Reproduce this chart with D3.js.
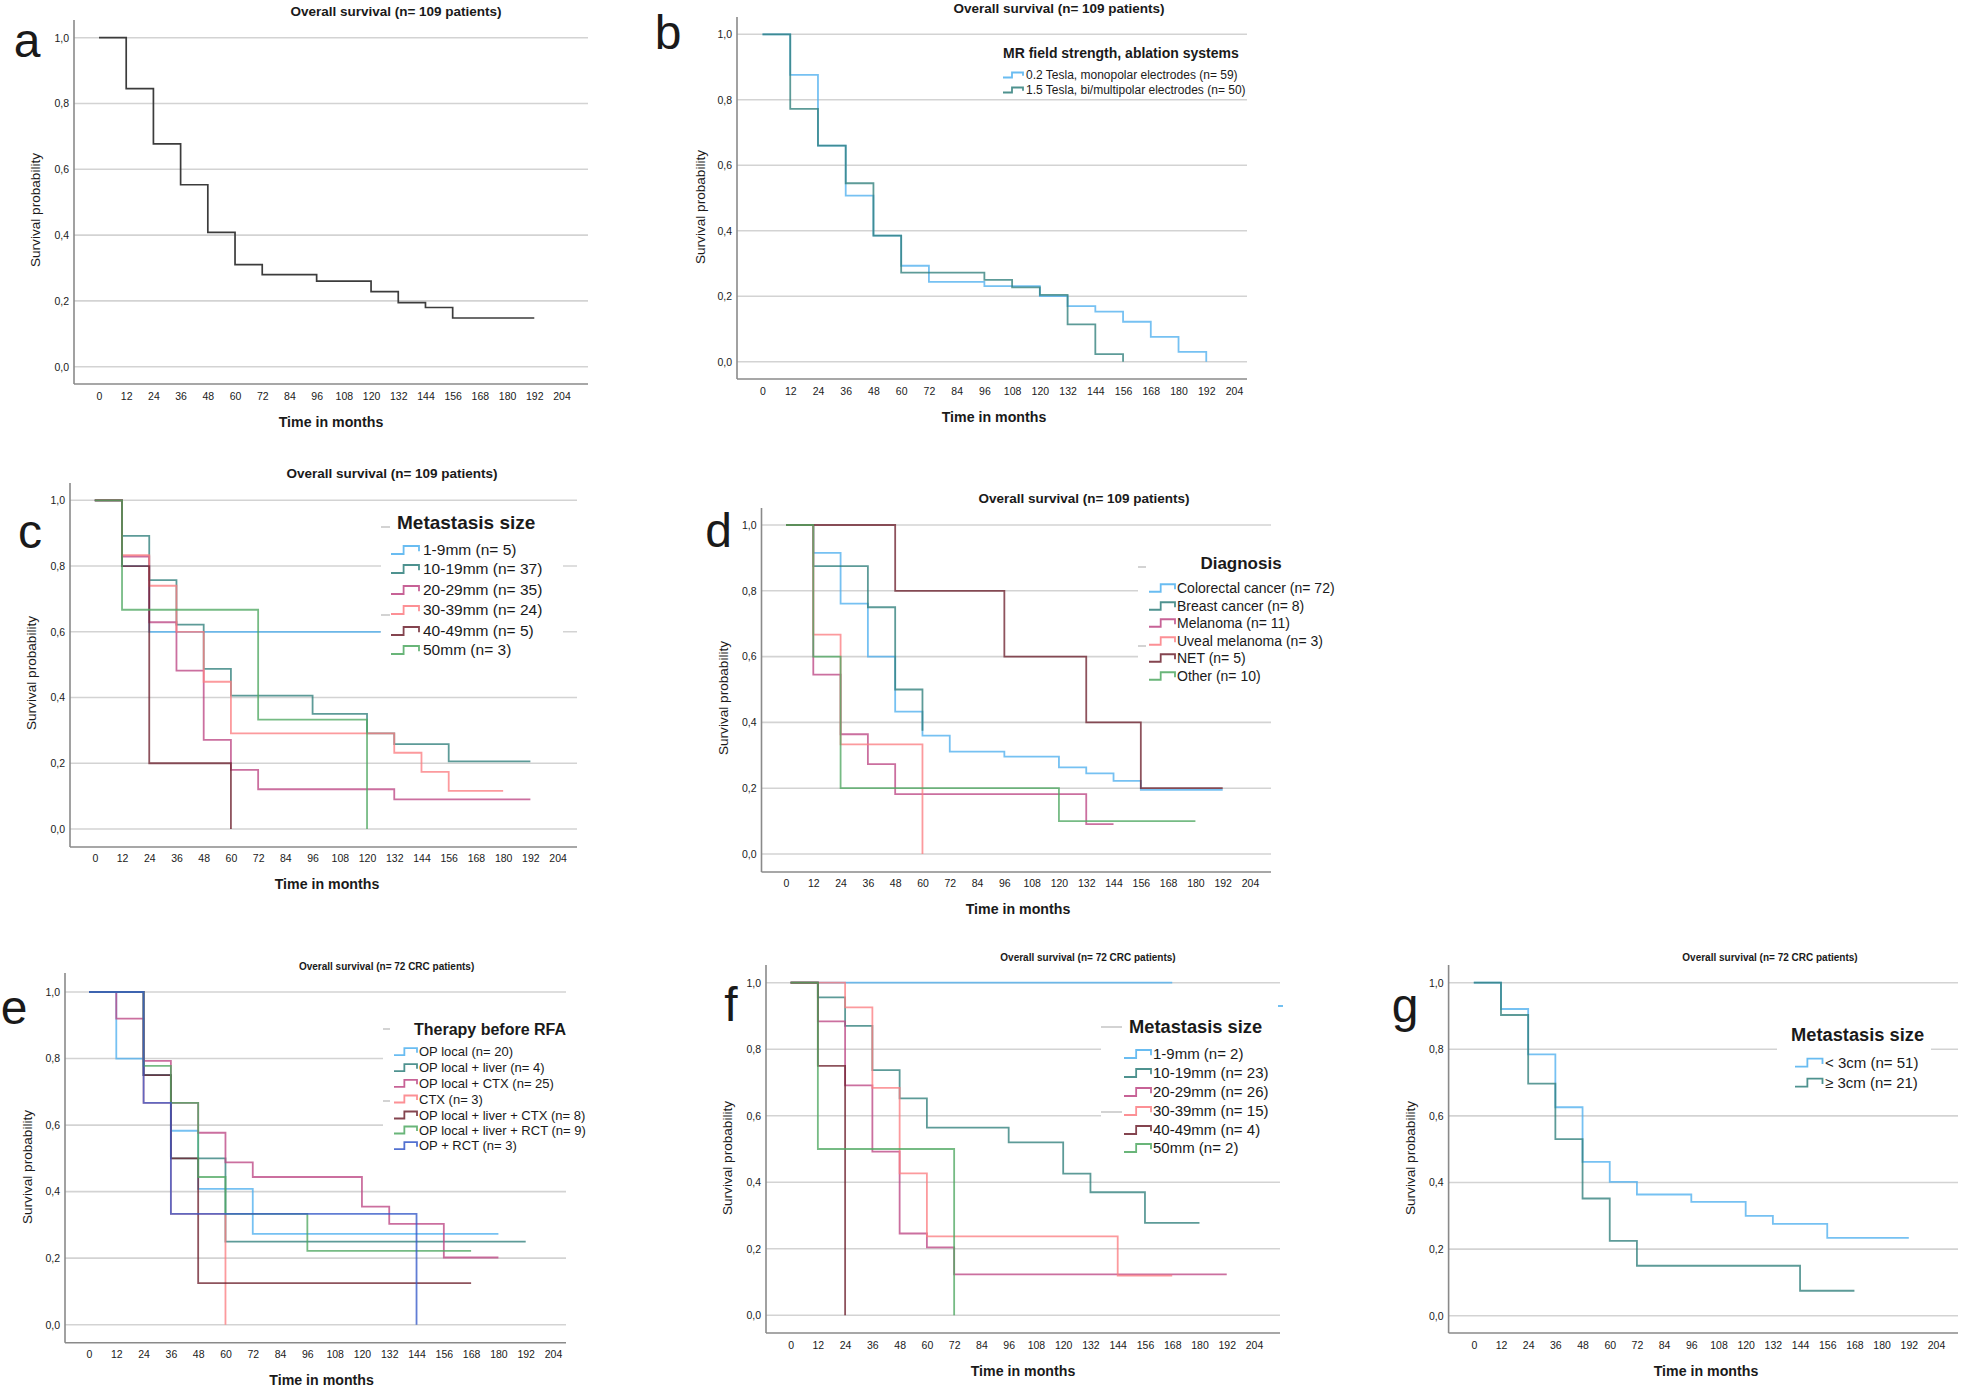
<!DOCTYPE html>
<html><head><meta charset="utf-8">
<script src="https://cdn.jsdelivr.net/npm/d3@7"></script>
<style>
body{margin:0;background:#fff}
svg{display:block}
text{font-family:"Liberation Sans",Arial,Helvetica,sans-serif;fill:#1a1a1a}
</style></head>
<body><svg id="chart" width="1962" height="1388"></svg>
<script>
// ---------------- DATA ----------------
const xTicks = [0,12,24,36,48,60,72,84,96,108,120,132,144,156,168,180,192,204];
const yTicks = [0,0.2,0.4,0.6,0.8,1.0];
const yTickLabels = ["0,0","0,2","0,4","0,6","0,8","1,0"];
const titleAll = "Overall survival (n= 109 patients)";
const titleCRC = "Overall survival (n= 72 CRC patients)";
const xTitle = "Time in months";
const yTitle = "Survival probability";

// a
const aTimes = [0,12,24,36,48,60,72,96,120,132,144,156,192];
const aSurv  = [1,0.845,0.677,0.553,0.408,0.31,0.28,0.26,0.228,0.195,0.18,0.148,0.148];

// b
const bLegendTitle = "MR field strength, ablation systems";
const bCategories = ["0.2 Tesla, monopolar electrodes (n= 59)","1.5 Tesla, bi/multipolar electrodes (n= 50)"];
const bTimes02 = [0,12,24,36,48,60,72,96,120,132,144,156,168,180,192];
const bSurv02  = [1,0.876,0.66,0.507,0.385,0.293,0.244,0.231,0.2,0.17,0.153,0.122,0.076,0.03,0];
const bTimes15 = [0,12,24,36,48,60,96,108,120,132,144,156];
const bSurv15  = [1,0.772,0.66,0.545,0.385,0.272,0.25,0.227,0.204,0.114,0.023,0];

// c
const cLegendTitle = "Metastasis size";
const cCategories = ["1-9mm (n= 5)","10-19mm (n= 37)","20-29mm (n= 35)","30-39mm (n= 24)","40-49mm (n= 5)","50mm (n= 3)"];
const cTimes1 = [0,12,24,126];              const cSurv1 = [1,0.8,0.6,0.6];
const cTimes2 = [0,12,24,36,48,60,96,120,132,156,192]; const cSurv2 = [1,0.892,0.757,0.622,0.487,0.406,0.35,0.291,0.258,0.206,0.206];
const cTimes3 = [0,12,24,36,48,60,72,132,192]; const cSurv3 = [1,0.829,0.629,0.482,0.271,0.18,0.121,0.09,0.09];
const cTimes4 = [0,12,24,36,48,60,132,144,156,180]; const cSurv4 = [1,0.833,0.74,0.6,0.448,0.291,0.232,0.174,0.116,0.116];
const cTimes5 = [0,12,24,60];               const cSurv5 = [1,0.8,0.2,0];
const cTimes6 = [0,12,72,120];              const cSurv6 = [1,0.667,0.333,0];

// d
const dLegendTitle = "Diagnosis";
const dCategories = ["Colorectal cancer (n= 72)","Breast cancer (n= 8)","Melanoma (n= 11)","Uveal melanoma (n= 3)","NET (n= 5)","Other (n= 10)"];
const dTimes1 = [0,12,24,36,48,60,72,96,120,132,144,156,192]; const dSurv1 = [1,0.915,0.761,0.6,0.433,0.36,0.311,0.296,0.263,0.245,0.222,0.195,0.195];
const dTimes2 = [0,12,36,48,60];            const dSurv2 = [1,0.875,0.75,0.5,0.375];
const dTimes3 = [0,12,24,36,48,132,144];    const dSurv3 = [1,0.545,0.364,0.273,0.182,0.091,0.091];
const dTimes4 = [0,12,24,60];               const dSurv4 = [1,0.667,0.333,0];
const dTimes5 = [0,48,96,132,156,192];      const dSurv5 = [1,0.8,0.6,0.4,0.2,0.2];
const dTimes6 = [0,12,24,120,180];          const dSurv6 = [1,0.6,0.2,0.1,0.1];

// e
const eLegendTitle = "Therapy before RFA";
const eCategories = ["OP local (n= 20)","OP local + liver (n= 4)","OP local + CTX (n= 25)","CTX (n= 3)","OP local + liver + CTX (n= 8)","OP local + liver + RCT (n= 9)","OP + RCT (n= 3)"];
const eTimes1 = [0,12,24,36,48,72,180];     const eSurv1 = [1,0.8,0.75,0.583,0.408,0.273,0.273];
const eTimes2 = [0,24,36,60,192];           const eSurv2 = [1,0.75,0.5,0.25,0.25];
const eTimes3 = [0,12,24,36,48,60,72,120,132,156,180]; const eSurv3 = [1,0.92,0.793,0.667,0.577,0.488,0.444,0.355,0.303,0.202,0.202];
const eTimes4 = [0,24,36,60];               const eSurv4 = [1,0.667,0.333,0];
const eTimes5 = [0,24,36,48,168];           const eSurv5 = [1,0.75,0.5,0.125,0.125];
const eTimes6 = [0,24,36,48,60,96,168];     const eSurv6 = [1,0.778,0.667,0.444,0.333,0.222,0.222];
const eTimes7 = [0,24,36,144];              const eSurv7 = [1,0.667,0.333,0];

// f
const fLegendTitle = "Metastasis size";
const fCategories = ["1-9mm (n= 2)","10-19mm (n= 23)","20-29mm (n= 26)","30-39mm (n= 15)","40-49mm (n= 4)","50mm (n= 2)"];
const fTimes1 = [0,168];                    const fSurv1 = [1,1];
const fTimes2 = [0,12,24,36,48,60,96,120,132,156,180]; const fSurv2 = [1,0.956,0.87,0.737,0.652,0.564,0.52,0.426,0.37,0.278,0.278];
const fTimes3 = [0,12,24,36,48,60,72,192];  const fSurv3 = [1,0.884,0.691,0.492,0.246,0.204,0.123,0.123];
const fTimes4 = [0,24,36,48,60,144,168];    const fSurv4 = [1,0.926,0.684,0.427,0.237,0.119,0.119];
const fTimes5 = [0,12,24];                  const fSurv5 = [1,0.75,0];
const fTimes6 = [0,12,72];                  const fSurv6 = [1,0.5,0];

// g
const gLegendTitle = "Metastasis size";
const gCategories = ["< 3cm (n= 51)","\u2265 3cm (n= 21)"];
const gTimes1 = [0,12,24,36,48,60,72,96,120,132,156,192]; const gSurv1 = [1,0.921,0.785,0.626,0.462,0.402,0.364,0.342,0.30,0.276,0.234,0.234];
const gTimes2 = [0,12,24,36,48,60,72,144,168]; const gSurv2 = [1,0.903,0.697,0.53,0.352,0.225,0.15,0.075,0.075];

// ---------------- STYLE / LAYOUT ----------------
const COL = {blue:"#4fb0ee", teal:"#2f7f7b", magenta:"#bd4684", salmon:"#fb7d82", darkred:"#6e2330", green:"#4fa862", navy:"#3558c8", black:"#3c3c3c"};
const zip = (t,s) => t.map((v,i)=>[v,s[i]]);

const panels = [
 {letter:"a", title:titleAll, tSize:13.5, x0:99, x204:561.5, y1:37.7, y0:366.7, L:74, R:588, B:384, T:20, tickY:396,
  tx:396, ty:11, xlx:331, xly:422, ylx:35, yly:210, lx:27, ly:57,
  series:[{d:zip(aTimes,aSurv), c:COL.black}], legend:null},
 {letter:"b", title:titleAll, tSize:13.5, x0:762.5, x204:1234, y1:34.3, y0:361.7, L:737, R:1247, B:379, T:17, tickY:391,
  tx:1059, ty:8.5, xlx:994, xly:417, ylx:700, yly:207, lx:668, ly:49,
  series:[{d:zip(bTimes02,bSurv02), c:COL.blue},{d:zip(bTimes15,bSurv15), c:COL.teal}],
  legend:{title:bLegendTitle, titleSize:14, titleX:1003, titleY:53, anchor:"start", cats:bCategories, cols:[COL.blue,COL.teal],
   symX:1003, symW:20, symH:5, textX:1026, ys:[75,90], size:12, box:null, dashes:[]}},
 {letter:"c", title:titleAll, tSize:13.5, x0:94.8, x204:557.6, y1:500.3, y0:829, L:70, R:577, B:847, T:483, tickY:858,
  tx:392, ty:473, xlx:327, xly:884, ylx:31.6, yly:673, lx:30, ly:548,
  series:[{d:zip(cTimes1,cSurv1),c:COL.blue},{d:zip(cTimes2,cSurv2),c:COL.teal},{d:zip(cTimes3,cSurv3),c:COL.magenta},
          {d:zip(cTimes4,cSurv4),c:COL.salmon},{d:zip(cTimes5,cSurv5),c:COL.darkred},{d:zip(cTimes6,cSurv6),c:COL.green}],
  legend:{title:cLegendTitle, titleSize:19, titleX:397, titleY:522, anchor:"start", cats:cCategories,
   cols:[COL.blue,COL.teal,COL.magenta,COL.salmon,COL.darkred,COL.green],
   symX:391, symW:28, symH:8, textX:423, ys:[550,569,590,610,631,650], size:15.5, box:[381,508,563,662],
   dashes:[[381,390,527],[381,390,615]]}},
 {letter:"d", title:titleAll, tSize:13.5, x0:786, x204:1250, y1:525, y0:854, L:761.5, R:1271, B:872, T:508, tickY:883,
  tx:1084, ty:498, xlx:1018, xly:909, ylx:723, yly:698, lx:718.5, ly:547,
  series:[{d:zip(dTimes1,dSurv1),c:COL.blue},{d:zip(dTimes2,dSurv2),c:COL.teal},{d:zip(dTimes3,dSurv3),c:COL.magenta},
          {d:zip(dTimes4,dSurv4),c:COL.salmon},{d:zip(dTimes5,dSurv5),c:COL.darkred},{d:zip(dTimes6,dSurv6),c:COL.green}],
  legend:{title:dLegendTitle, titleSize:17, titleX:1241, titleY:563, anchor:"middle", cats:dCategories,
   cols:[COL.blue,COL.teal,COL.magenta,COL.salmon,COL.darkred,COL.green],
   symX:1149, symW:26, symH:7.5, textX:1177, ys:[588,606,623,641,658,676], size:14, box:[1138,548,1345,688],
   dashes:[[1138,1146,567],[1138,1146,646]]}},
 {letter:"e", title:titleCRC, tSize:10, x0:89, x204:553, y1:992, y0:1324.7, L:65, R:566, B:1342.7, T:973, tickY:1354,
  tx:386.6, ty:966, xlx:321.6, xly:1380, ylx:26.8, yly:1167, lx:14, ly:1024,
  series:[{d:zip(eTimes1,eSurv1),c:COL.blue},{d:zip(eTimes2,eSurv2),c:COL.teal},{d:zip(eTimes3,eSurv3),c:COL.magenta},
          {d:zip(eTimes4,eSurv4),c:COL.salmon},{d:zip(eTimes5,eSurv5),c:COL.darkred},{d:zip(eTimes6,eSurv6),c:COL.green},
          {d:zip(eTimes7,eSurv7),c:COL.navy}],
  legend:{title:eLegendTitle, titleSize:16, titleX:414, titleY:1029, anchor:"start", cats:eCategories,
   cols:[COL.blue,COL.teal,COL.magenta,COL.salmon,COL.darkred,COL.green,COL.navy],
   symX:394, symW:23, symH:7, textX:419, ys:[1051.7,1067.7,1083.3,1099,1115,1130,1145.7], size:13, box:[383,1012,580,1160],
   dashes:[[383,390,1029],[383,390,1101]]}},
 {letter:"f", title:titleCRC, tSize:10, x0:790.6, x204:1254, y1:982.7, y0:1315.3, L:766, R:1280, B:1333, T:965, tickY:1345,
  tx:1088, ty:957, xlx:1023, xly:1371, ylx:727, yly:1158, lx:731, ly:1021,
  series:[{d:zip(fTimes1,fSurv1),c:COL.blue},{d:zip(fTimes2,fSurv2),c:COL.teal},{d:zip(fTimes3,fSurv3),c:COL.magenta},
          {d:zip(fTimes4,fSurv4),c:COL.salmon},{d:zip(fTimes5,fSurv5),c:COL.darkred},{d:zip(fTimes6,fSurv6),c:COL.green}],
  legend:{title:fLegendTitle, titleSize:18.3, titleX:1129, titleY:1027, anchor:"start", cats:fCategories,
   cols:[COL.blue,COL.teal,COL.magenta,COL.salmon,COL.darkred,COL.green],
   symX:1124, symW:27, symH:8, textX:1153, ys:[1054,1073,1092,1111,1130,1148], size:15, box:[1101,1012,1295,1160],
   dashes:[[1101,1122,1027],[1101,1122,1112]], extra:[[1278,1283,1006,COL.blue]]}},
 {letter:"g", title:titleCRC, tSize:10, x0:1473.8, x204:1936, y1:982.7, y0:1315.7, L:1448.6, R:1958, B:1333, T:965, tickY:1345,
  tx:1770, ty:957, xlx:1706, xly:1371, ylx:1410, yly:1158, lx:1405, ly:1022,
  series:[{d:zip(gTimes1,gSurv1),c:COL.blue},{d:zip(gTimes2,gSurv2),c:COL.teal}],
  legend:{title:gLegendTitle, titleSize:18.3, titleX:1791, titleY:1035, anchor:"start", cats:gCategories,
   cols:[COL.blue,COL.teal], symX:1795, symW:27.5, symH:8, textX:1825, ys:[1062.7,1082.7], size:15, box:[1777,1015,1931,1095],
   dashes:[]}}
];

// ---------------- DRAW ----------------
const svg = d3.select("#chart");
svg.append("rect").attr("width",1962).attr("height",1388).attr("fill","#fff");

panels.forEach(p => {
  const x = d3.scaleLinear().domain([0,204]).range([p.x0,p.x204]);
  const y = d3.scaleLinear().domain([0,1]).range([p.y0,p.y1]);
  const g = svg.append("g");

  // gridlines
  g.selectAll("line.grid").data(yTicks).join("line").attr("class","grid")
    .attr("x1",p.L).attr("x2",p.R).attr("y1",d=>y(d)).attr("y2",d=>y(d))
    .attr("stroke","#d3d3d3").attr("stroke-width",1.6);

  // legend box (masks gridlines)
  if (p.legend && p.legend.box) {
    const b = p.legend.box;
    g.append("rect").attr("x",b[0]).attr("y",b[1]).attr("width",b[2]-b[0]).attr("height",b[3]-b[1]).attr("fill","#fff");
  }

  // axis lines
  g.append("line").attr("x1",p.L).attr("x2",p.L).attr("y1",p.T).attr("y2",p.B).attr("stroke","#8a8a8a").attr("stroke-width",1.6);
  g.append("line").attr("x1",p.L).attr("x2",p.R).attr("y1",p.B).attr("y2",p.B).attr("stroke","#8a8a8a").attr("stroke-width",1.6);

  // x axis tick labels
  const xa = g.append("g").attr("transform",`translate(0,${p.tickY})`)
    .call(d3.axisBottom(x).tickValues(xTicks).tickSize(0).tickFormat(d=>String(d)));
  xa.select(".domain").remove();
  xa.selectAll("text").attr("y",0).attr("dy","0.35em").attr("font-size",10.5).attr("fill","#333")
    .style("font-family",'"Liberation Sans",Arial,sans-serif');

  // y axis tick labels
  const ya = g.append("g").attr("transform",`translate(${p.L-2},0)`)
    .call(d3.axisLeft(y).tickValues(yTicks).tickSize(0).tickFormat((d,i)=>yTickLabels[i]));
  ya.select(".domain").remove();
  ya.selectAll("text").attr("font-size",10.5).attr("fill","#333")
    .style("font-family",'"Liberation Sans",Arial,sans-serif');

  // curves
  const line = d3.line().x(d=>x(d[0])).y(d=>y(d[1])).curve(d3.curveStepAfter);
  g.selectAll("path.km").data(p.series).join("path").attr("class","km")
    .attr("d",s=>line(s.d)).attr("fill","none").attr("stroke",s=>s.c)
    .attr("stroke-width", p.letter==="a"?1.7:1.8).attr("stroke-opacity", p.letter==="a"?1:0.78);

  // titles
  g.append("text").attr("x",p.tx).attr("y",p.ty).attr("dy","0.35em").attr("text-anchor","middle")
    .attr("font-weight","bold").attr("font-size",p.tSize).text(p.title);
  g.append("text").attr("x",p.xlx).attr("y",p.xly).attr("dy","0.35em").attr("text-anchor","middle")
    .attr("font-weight","bold").attr("font-size",14.2).text(xTitle);
  g.append("text").attr("transform",`translate(${p.ylx},${p.yly}) rotate(-90)`).attr("dy","0.35em")
    .attr("text-anchor","middle").attr("font-size",13.6).attr("fill","#111").text(yTitle);

  // panel letter
  g.append("text").attr("x",p.lx).attr("y",p.ly).attr("text-anchor","middle")
    .style("font-family",'"Liberation Sans",Arial,sans-serif').attr("font-size",48).attr("fill","#000").text(p.letter);

  // legend
  const lg = p.legend;
  if (lg) {
    g.append("text").attr("x",lg.titleX).attr("y",lg.titleY).attr("dy","0.35em").attr("text-anchor",lg.anchor)
      .attr("font-weight","bold").attr("font-size",lg.titleSize).attr("fill","#111").text(lg.title);
    lg.dashes.forEach(dd => g.append("line").attr("x1",dd[0]).attr("x2",dd[1]).attr("y1",dd[2]).attr("y2",dd[2])
      .attr("stroke","#c8c8c8").attr("stroke-width",1.6));
    (lg.extra||[]).forEach(dd => g.append("line").attr("x1",dd[0]).attr("x2",dd[1]).attr("y1",dd[2]).attr("y2",dd[2])
      .attr("stroke",dd[3]).attr("stroke-width",1.6));
    const items = g.selectAll("g.li").data(lg.cats).join("g").attr("class","li");
    items.append("path").attr("d",(d,i)=>{
        const cy = lg.ys[i], sx = lg.symX, w = lg.symW, h = lg.symH;
        return `M${sx},${cy+h/2}H${sx+w*0.45}V${cy-h/2}H${sx+w}V${cy+h*0.15}`;
      }).attr("fill","none").attr("stroke",(d,i)=>lg.cols[i]).attr("stroke-width",1.8).attr("stroke-opacity",0.85);
    items.append("text").attr("x",lg.textX).attr("y",(d,i)=>lg.ys[i]).attr("dy","0.35em")
      .attr("font-size",lg.size).attr("fill","#222").text(d=>d);
  }
});
</script></body></html>
